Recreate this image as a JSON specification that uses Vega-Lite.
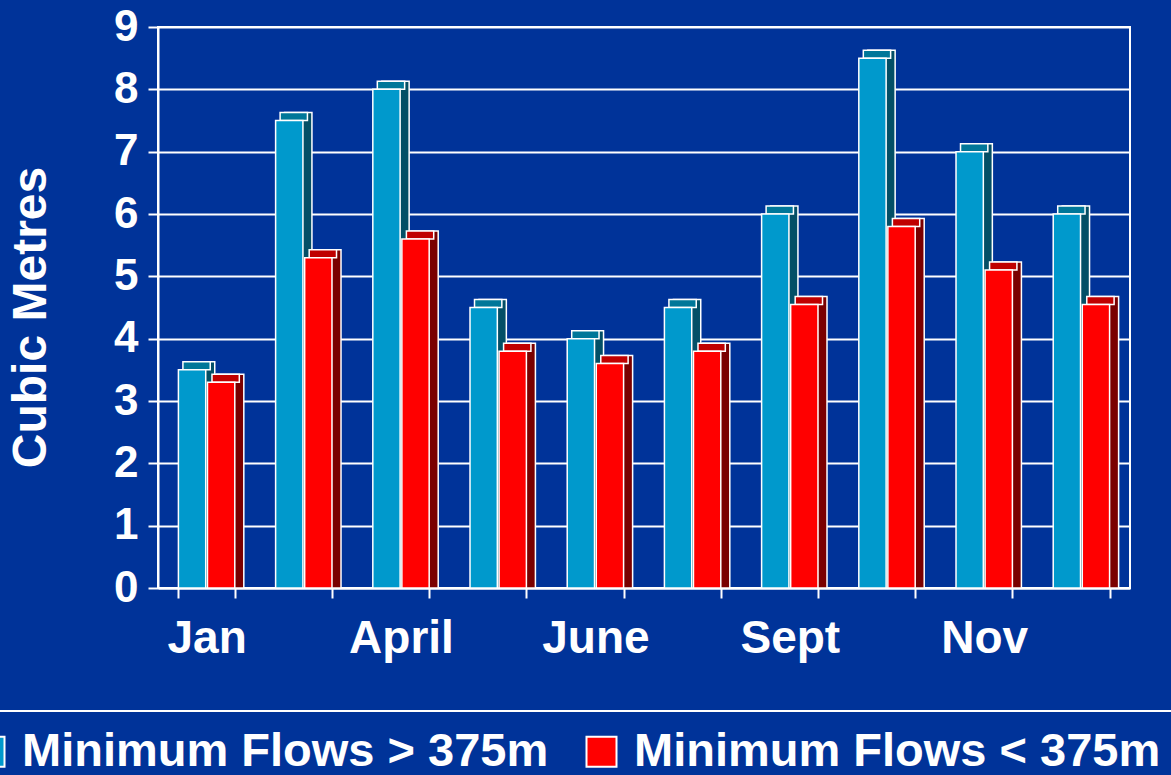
{
  "$schema": "https://vega.github.io/schema/vega-lite/v6.json",
  "width": 972,
  "height": 561,
  "autosize": {"type": "none"},
  "padding": {"left": 158, "top": 27, "right": 41, "bottom": 187},
  "background": "#003399",
  "config": {
    "view": {"stroke": "white", "strokeWidth": 2},
    "font": "Liberation Sans",
    "legend": {"strokeWidth": 2}
  },
  "data": {
    "values": [
      {"month": "Jan", "series": "Minimum Flows > 375m", "value": 3.5},
      {"month": "Jan", "series": "Minimum Flows < 375m", "value": 3.3},
      {"month": "Mar", "series": "Minimum Flows > 375m", "value": 7.5},
      {"month": "Mar", "series": "Minimum Flows < 375m", "value": 5.3},
      {"month": "April", "series": "Minimum Flows > 375m", "value": 8.0},
      {"month": "April", "series": "Minimum Flows < 375m", "value": 5.6},
      {"month": "May", "series": "Minimum Flows > 375m", "value": 4.5},
      {"month": "May", "series": "Minimum Flows < 375m", "value": 3.8},
      {"month": "June", "series": "Minimum Flows > 375m", "value": 4.0},
      {"month": "June", "series": "Minimum Flows < 375m", "value": 3.6},
      {"month": "Aug", "series": "Minimum Flows > 375m", "value": 4.5},
      {"month": "Aug", "series": "Minimum Flows < 375m", "value": 3.8},
      {"month": "Sept", "series": "Minimum Flows > 375m", "value": 6.0},
      {"month": "Sept", "series": "Minimum Flows < 375m", "value": 4.55},
      {"month": "Oct", "series": "Minimum Flows > 375m", "value": 8.5},
      {"month": "Oct", "series": "Minimum Flows < 375m", "value": 5.8},
      {"month": "Nov", "series": "Minimum Flows > 375m", "value": 7.0},
      {"month": "Nov", "series": "Minimum Flows < 375m", "value": 5.1},
      {"month": "Dec", "series": "Minimum Flows > 375m", "value": 6.0},
      {"month": "Dec", "series": "Minimum Flows < 375m", "value": 4.55}
    ]
  },
  "encoding": {
    "x": {
      "field": "month",
      "type": "nominal",
      "sort": null,
      "scale": {"paddingInner": 0.42, "paddingOuter": 0.21},
      "axis": {
        "title": null,
        "labelAngle": 0,
        "labelExpr": "indexof(['Jan','April','June','Sept','Nov'], datum.value) >= 0 ? datum.value : ''",
        "tickBand": "extent",
        "ticks": true,
        "tickColor": "white",
        "tickSize": 10,
        "tickWidth": 2,
        "domainColor": "white",
        "domainWidth": 2,
        "labelColor": "white",
        "labelFontSize": 46,
        "labelFontWeight": "bold",
        "labelPadding": 18,
        "grid": false
      }
    },
    "y": {
      "field": "value",
      "type": "quantitative",
      "scale": {"domain": [0, 9]},
      "axis": {
        "values": [0, 1, 2, 3, 4, 5, 6, 7, 8, 9],
        "grid": true,
        "gridColor": "white",
        "gridWidth": 2,
        "gridOpacity": 1,
        "tickColor": "white",
        "tickSize": 10,
        "tickWidth": 2,
        "domainColor": "white",
        "domainWidth": 2,
        "labelColor": "white",
        "labelFontSize": 44,
        "labelFontWeight": "bold",
        "labelPadding": 10,
        "title": "Cubic Metres",
        "titleColor": "white",
        "titleFontSize": 48,
        "titleFontWeight": "bold",
        "titlePadding": 58,
        "titleY": 290
      }
    }
  },
  "layer": [
    {
      "mark": {"type": "bar", "yOffset": -8, "y2Offset": 0, "stroke": "white", "strokeWidth": 1.5},
      "encoding": {
        "y2": {"datum": 0},
        "xOffset": {"field": "series", "sort": null, "scale": {"paddingInner": 0.06, "range": [9, 65.4]}},
        "color": {
          "condition": {"test": "datum.series === 'Minimum Flows > 375m'", "value": "#034F66"},
          "value": "#7A0000"
        }
      }
    },
    {
      "mark": {"type": "bar", "yOffset": -8, "y2Offset": 0, "stroke": "white", "strokeWidth": 1.5},
      "encoding": {
        "y2": {"field": "value"},
        "xOffset": {"field": "series", "sort": null, "scale": {"paddingInner": 0.06, "range": [4.5, 60.9]}},
        "color": {
          "condition": {"test": "datum.series === 'Minimum Flows > 375m'", "value": "#007799"},
          "value": "#C00000"
        }
      }
    },
    {
      "mark": {"type": "bar", "stroke": "white", "strokeWidth": 1.5},
      "encoding": {
        "xOffset": {"field": "series", "sort": null, "scale": {"paddingInner": 0.06}},
        "color": {
          "field": "series",
          "type": "nominal",
          "sort": null,
          "scale": {"domain": ["Minimum Flows > 375m", "Minimum Flows < 375m"], "range": ["#0099CC", "#FF0000"]},
          "legend": {
            "orient": "none",
            "legendX": -209,
            "legendY": 684,
            "direction": "horizontal",
            "title": null,
            "labelFontSize": 47,
            "labelFontWeight": "bold",
            "labelColor": "white",
            "labelLimit": 0,
            "labelOffset": 9,
            "columnPadding": 29,
            "symbolType": "square",
            "symbolSize": 900,
            "symbolStrokeColor": "white",
            "symbolStrokeWidth": 2,
            "symbolOpacity": 1,
            "strokeColor": "white",
            "padding": 17
          }
        }
      }
    }
  ],
  "resolve": {"scale": {"xOffset": "independent"}}
}
